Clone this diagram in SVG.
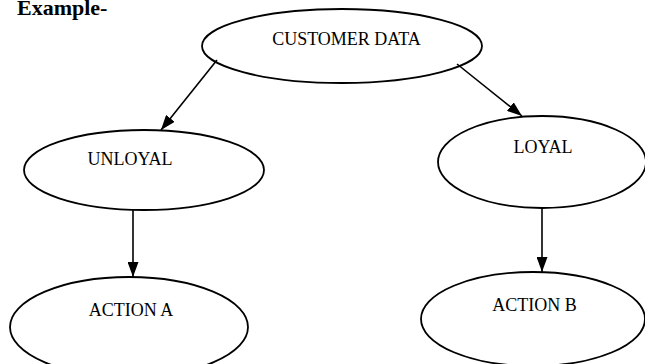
<svg xmlns="http://www.w3.org/2000/svg" width="645" height="364" viewBox="0 0 645 364">
<style>
.node ellipse{fill:#fff;stroke:#000;stroke-width:1.8}
.node text{font-family:"Liberation Serif","Times New Roman",serif;font-size:18px;fill:#000;text-anchor:middle}
.edge{stroke:#000;stroke-width:1.6;fill:none;marker-end:url(#arrow)}
.title{font-family:"Liberation Serif","Times New Roman",serif;font-size:22px;font-weight:bold;fill:#000}
</style>
<defs>
<marker id="arrow" viewBox="0 0 15 11" refX="15" refY="5.5" markerWidth="15" markerHeight="11" markerUnits="userSpaceOnUse" orient="auto">
<path d="M0,0 L15,5.5 L0,11 Z" fill="#000"/>
</marker>
</defs>
<rect width="645" height="364" fill="#fff"/>
<text class="title" x="17" y="15">Example-</text>
<g id="customer-data" class="node">
<ellipse cx="342" cy="46" rx="140" ry="37"/>
<text x="346.5" y="45">CUSTOMER DATA</text>
</g>
<g id="unloyal" class="node">
<ellipse cx="144" cy="170" rx="120" ry="40"/>
<text x="130" y="165">UNLOYAL</text>
</g>
<g id="loyal" class="node">
<ellipse cx="542" cy="162" rx="104" ry="46"/>
<text x="543" y="153">LOYAL</text>
</g>
<g id="action-a" class="node">
<ellipse cx="129" cy="327" rx="119" ry="50"/>
<text x="131" y="316">ACTION A</text>
</g>
<g id="action-b" class="node">
<ellipse cx="533" cy="319" rx="112" ry="47"/>
<text x="534.5" y="311">ACTION B</text>
</g>
<g id="connectors">
<line class="edge" x1="217" y1="60" x2="161" y2="130"/>
<line class="edge" x1="457" y1="64" x2="522" y2="116"/>
<line class="edge" x1="133" y1="210" x2="133" y2="277"/>
<line class="edge" x1="542" y1="208" x2="542" y2="272"/>
</g>
</svg>
